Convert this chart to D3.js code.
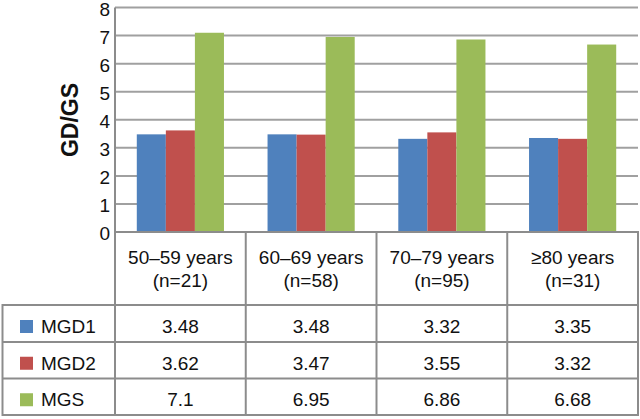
<!DOCTYPE html>
<html lang="en">
<meta charset="utf-8">
<head>
    <title>GD/GS by age group</title>
    <script src="https://d3js.org/d3.v7.min.js"></script>
    <style>
        body { margin: 0; background: #fff; }
        svg { display: block; font-family: "Liberation Sans", Arial, sans-serif; }
    </style>
</head>
<body>
    <div id="plot"></div>
    <script>
        // data
        var groups = ["50–59 years", "60–69 years", "70–79 years", "≥80 years"];
        var groupN = ["(n=21)", "(n=58)", "(n=95)", "(n=31)"];
        var seriesNames = ["MGD1", "MGD2", "MGS"];
        var mgd1 = [3.48, 3.48, 3.32, 3.35];
        var mgd2 = [3.62, 3.47, 3.55, 3.32];
        var mgs = [7.1, 6.95, 6.86, 6.68];
        var yTicks = [0, 1, 2, 3, 4, 5, 6, 7, 8];
        var colors = ["#4f81bd", "#c0504d", "#9bbb59"];

        var values = [mgd1, mgd2, mgs];

        var W = 640, H = 419;
        var plotLeft = 115, plotRight = 638, plotTop = 7.5, plotBottom = 232;
        var tableLeft = 2.5;
        var rowLines = [305, 342, 378.5, 415];
        var lineCol = "#8c8c8c";
        var fs = "19px";

        var svg = d3.select("#plot").append("svg")
            .attr("width", W)
            .attr("height", H);

        var x0 = d3.scaleBand()
            .domain(groups)
            .range([plotLeft, plotRight])
            .padding(0);

        var x1 = d3.scaleBand()
            .domain(seriesNames)
            .range([0, x0.bandwidth()])
            .paddingInner(0)
            .paddingOuter(0.75);

        var y = d3.scaleLinear()
            .domain([0, 8])
            .range([plotBottom, plotTop]);

        // gridlines
        svg.append("g").selectAll("line")
            .data(yTicks.filter(function (d) { return d > 0; }))
            .join("line")
            .attr("x1", plotLeft)
            .attr("x2", plotRight)
            .attr("y1", function (d) { return y(d); })
            .attr("y2", function (d) { return y(d); })
            .attr("stroke", "#a0a0a0")
            .attr("stroke-width", 2);

        // y axis
        var yAxis = svg.append("g")
            .attr("transform", "translate(" + plotLeft + ",0)")
            .call(d3.axisLeft(y).tickValues(yTicks).tickSize(0).tickPadding(5));
        yAxis.select(".domain").remove();
        yAxis.selectAll("text")
            .attr("font-size", fs)
            .attr("font-family", "Liberation Sans, Arial, sans-serif")
            .attr("dy", "0.4em")
            .attr("fill", "#111");

        // bars
        var bars = [];
        groups.forEach(function (g, i) {
            seriesNames.forEach(function (s, j) {
                bars.push({ group: g, series: s, value: values[j][i], color: colors[j] });
            });
        });

        svg.append("g").selectAll("rect")
            .data(bars)
            .join("rect")
            .attr("x", function (d) { return x0(d.group) + x1(d.series); })
            .attr("y", function (d) { return y(d.value); })
            .attr("width", x1.bandwidth())
            .attr("height", function (d) { return y(0) - y(d.value); })
            .attr("fill", function (d) { return d.color; });

        // y title
        svg.append("text")
            .attr("transform", "translate(78,120) rotate(-90)")
            .attr("text-anchor", "middle")
            .attr("font-size", "23px")
            .attr("font-weight", "bold")
            .attr("fill", "#111")
            .text("GD/GS");

        // table lines
        var grid = svg.append("g")
            .attr("stroke", lineCol)
            .attr("stroke-width", 2);

        // axis line through the table
        grid.append("line")
            .attr("x1", plotLeft).attr("x2", plotLeft)
            .attr("y1", plotTop).attr("y2", rowLines[3] + 1);

        // zero line / table top
        grid.append("line")
            .attr("x1", plotLeft).attr("x2", plotRight + 1)
            .attr("y1", y(0)).attr("y2", y(0));

        grid.selectAll(".row")
            .data(rowLines)
            .join("line")
            .attr("x1", tableLeft).attr("x2", plotRight + 1)
            .attr("y1", function (d) { return d; })
            .attr("y2", function (d) { return d; });

        grid.selectAll(".col")
            .data(groups)
            .join("line")
            .attr("x1", function (d) { return x0(d) + x0.bandwidth(); })
            .attr("x2", function (d) { return x0(d) + x0.bandwidth(); })
            .attr("y1", y(0))
            .attr("y2", rowLines[3] + 1);

        grid.append("line")
            .attr("x1", tableLeft).attr("x2", tableLeft)
            .attr("y1", rowLines[0] - 1).attr("y2", rowLines[3] + 1);

        // header cells
        var head = svg.append("g")
            .attr("font-size", fs)
            .attr("fill", "#111")
            .attr("text-anchor", "middle");
        groups.forEach(function (g, i) {
            var cx = x0(g) + x0.bandwidth() / 2;
            head.append("text").attr("x", cx).attr("y", 264).text(g);
            head.append("text").attr("x", cx).attr("y", 287).text(groupN[i]);
        });

        // value rows
        var body = svg.append("g")
            .attr("font-size", fs)
            .attr("fill", "#111");
        seriesNames.forEach(function (s, j) {
            var cy = (rowLines[j] + rowLines[j + 1]) / 2 + 3;
            body.append("rect")
                .attr("x", 20).attr("y", cy - 6.5)
                .attr("width", 13).attr("height", 13)
                .attr("fill", colors[j]);
            body.append("text")
                .attr("x", 41).attr("y", cy).attr("dy", "0.35em")
                .text(s);
            groups.forEach(function (g, i) {
                body.append("text")
                    .attr("x", x0(g) + x0.bandwidth() / 2)
                    .attr("y", cy).attr("dy", "0.35em")
                    .attr("text-anchor", "middle")
                    .text(values[j][i]);
            });
        });
    </script>
</body>
</html>
